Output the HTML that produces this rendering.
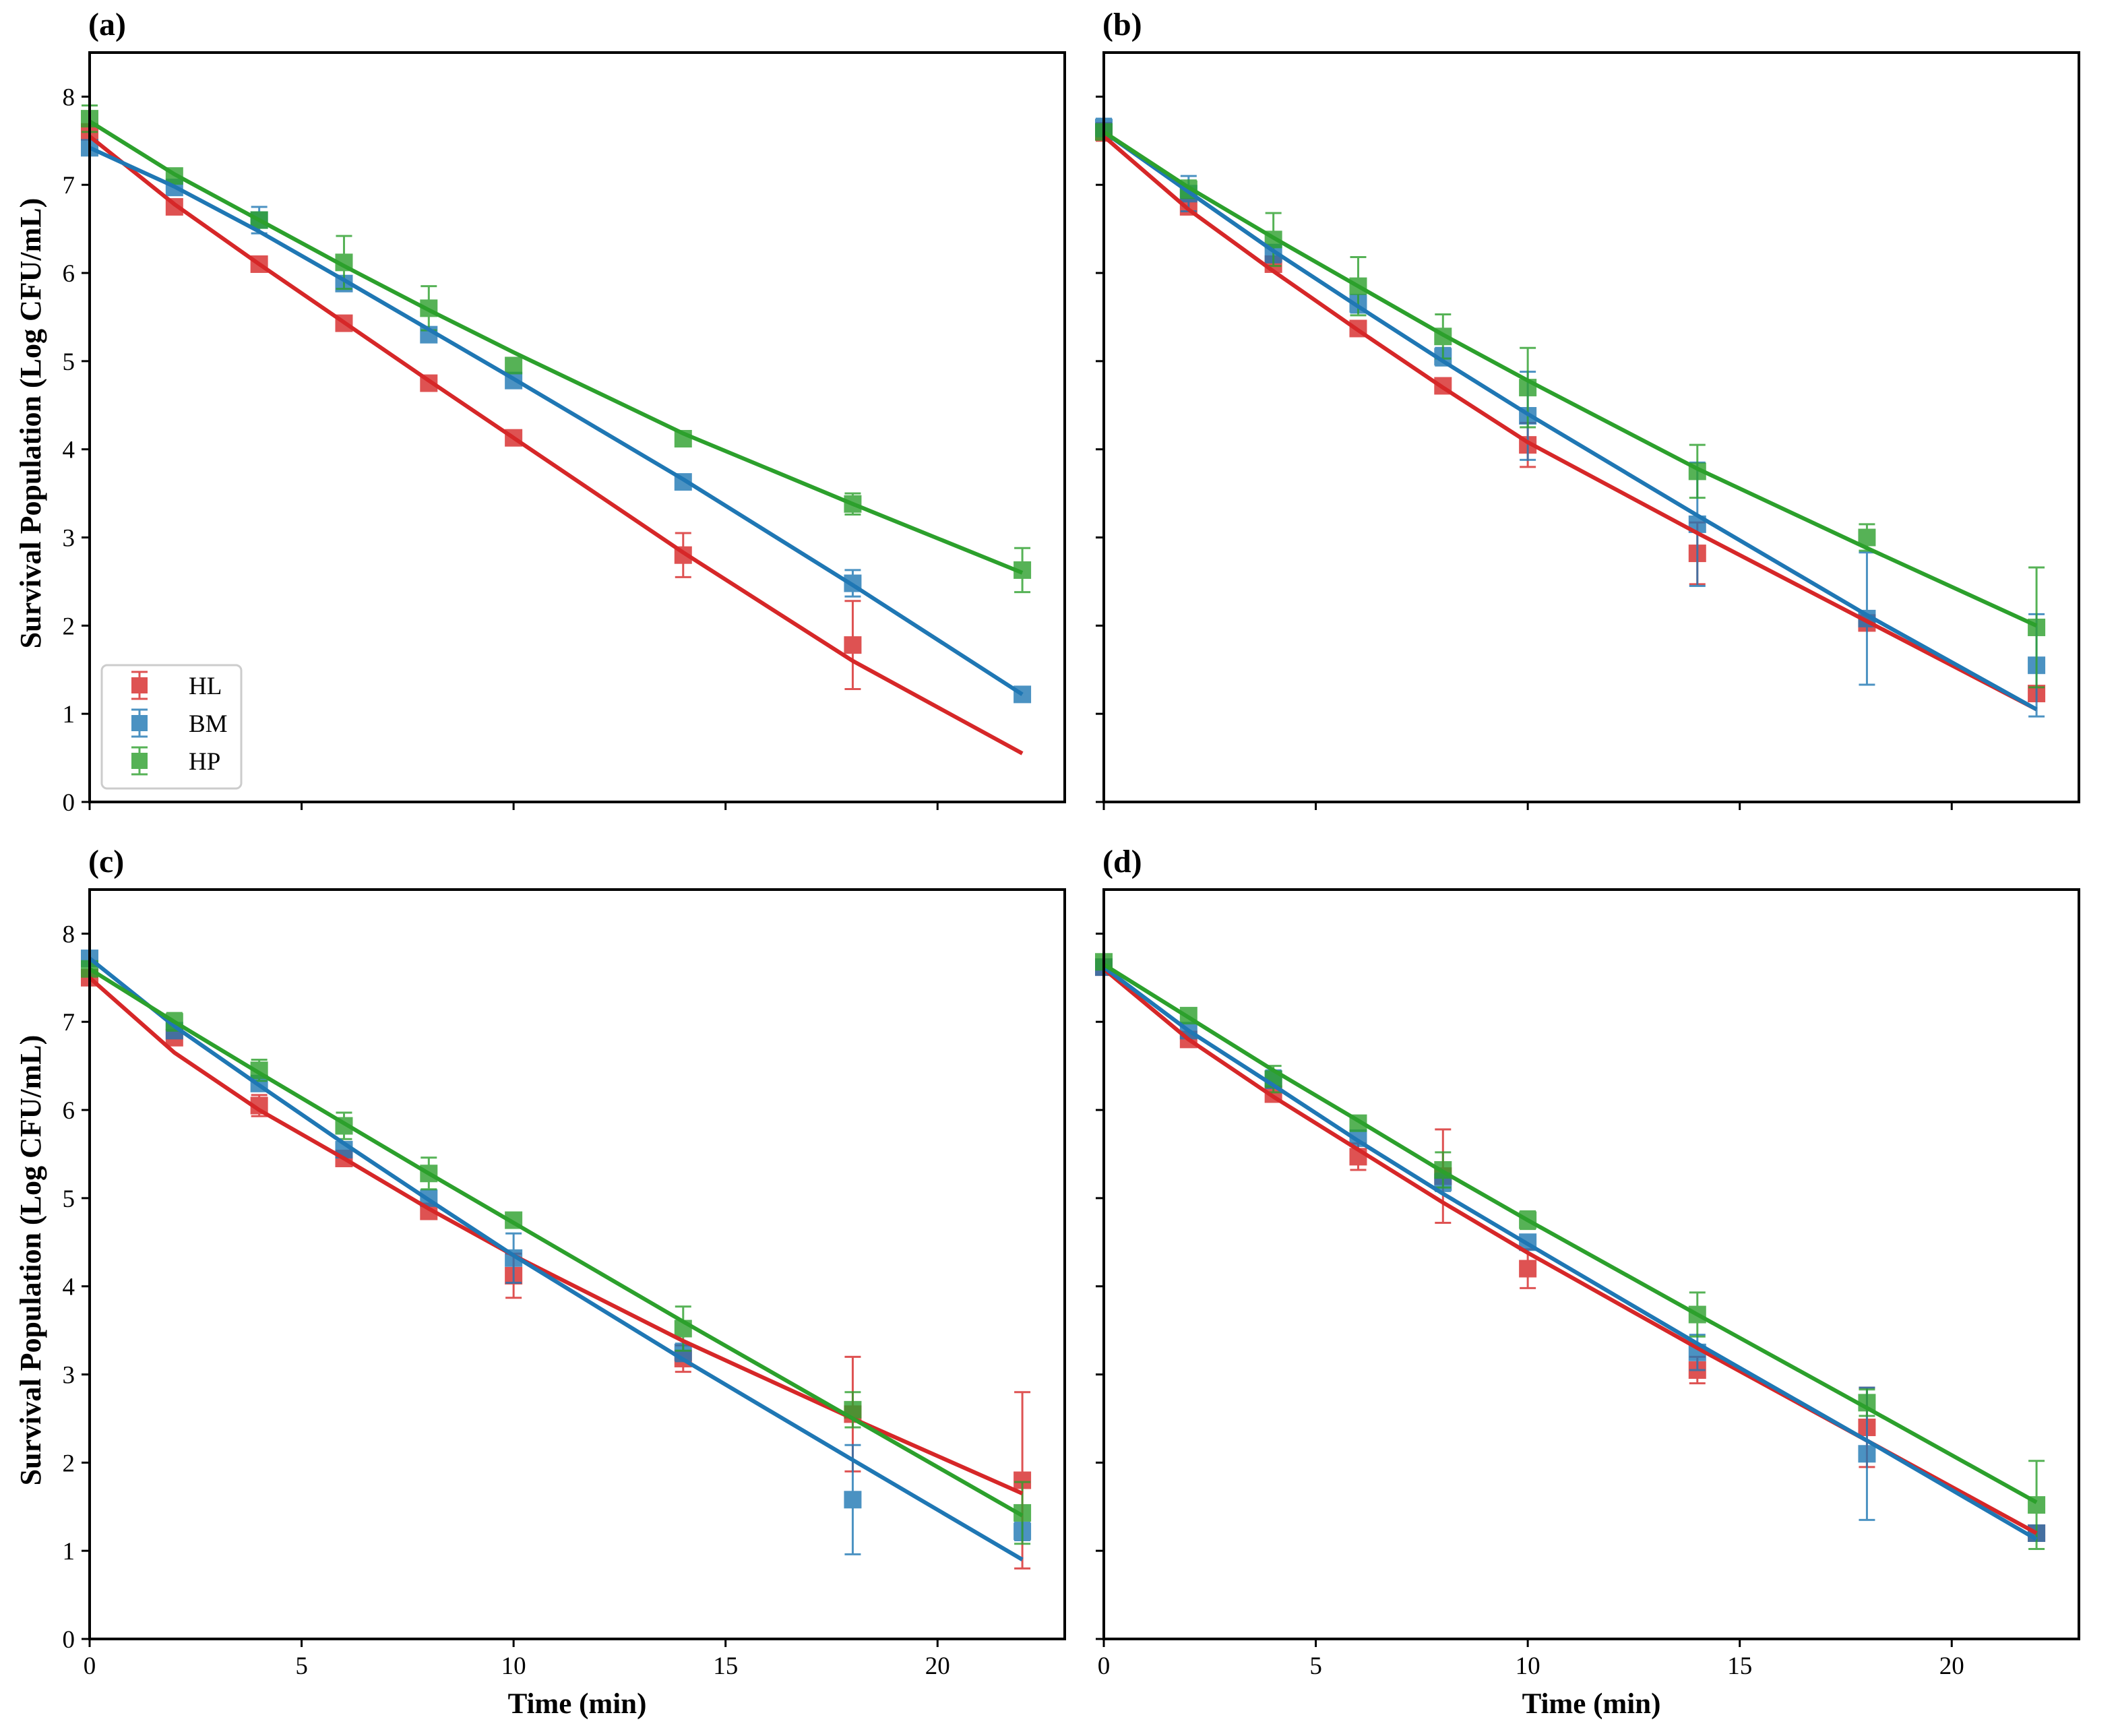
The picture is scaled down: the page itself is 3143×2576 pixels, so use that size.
<!DOCTYPE html>
<html><head><meta charset="utf-8"><style>
html,body{margin:0;padding:0;background:#fff}
svg{display:block;font-family:"Liberation Serif",serif}
</style></head><body>
<svg id="fig" width="3143" height="2576" viewBox="0 0 3143 2576" xmlns="http://www.w3.org/2000/svg"></svg>
<script>
const xs = [0,2,4,6,8,10,14,18,22];
const xTicks = [0,5,10,15,20];
const yTicks = [0,1,2,3,4,5,6,7,8];
const seriesNames = ['HL','BM','HP'];
const colors = ['#d62728','#1f77b4','#2ca02c'];
const panelLabels = ['(a)','(b)','(c)','(d)'];
// panel a
const aHL = [7.6,6.75,6.1,5.43,4.75,4.13,2.8,1.78,null];
const aHLerr = [0.05,0.05,0.05,0.05,0.05,0.05,0.25,0.5,0];
const aHLfit = [7.55,6.78,6.1,5.44,4.78,4.13,2.83,1.6,0.55];
const aBM = [7.42,6.97,6.6,5.88,5.3,4.78,3.63,2.48,1.22];
const aBMerr = [0.05,0.05,0.15,0.05,0.05,0.08,0.05,0.15,0.03];
const aBMfit = [7.42,6.98,6.47,5.92,5.36,4.8,3.66,2.46,1.22];
const aHP = [7.75,7.1,6.6,6.12,5.6,4.95,4.12,3.38,2.63];
const aHPerr = [0.15,0.05,0.08,0.3,0.25,0.05,0.05,0.12,0.25];
const aHPfit = [7.72,7.12,6.6,6.08,5.58,5.1,4.18,3.38,2.6];
// panel b
const bHL = [7.6,6.75,6.1,5.37,4.72,4.05,2.82,2.03,1.23];
const bHLerr = [0.1,0.05,0.05,0.05,0.05,0.25,0.35,0.05,0.08];
const bHLfit = [7.55,6.72,6.02,5.35,4.7,4.08,3.05,2.05,1.05];
const bBM = [7.65,6.9,6.22,5.65,5.05,4.38,3.15,2.08,1.55];
const bBMerr = [0.1,0.2,0.1,0.1,0.1,0.5,0.7,0.75,0.58];
const bBMfit = [7.6,6.92,6.25,5.62,5.0,4.4,3.25,2.12,1.05];
const bHP = [7.6,6.95,6.38,5.85,5.28,4.7,3.75,3.0,1.98];
const bHPerr = [0.08,0.1,0.3,0.33,0.25,0.45,0.3,0.15,0.68];
const bHPfit = [7.6,6.97,6.4,5.85,5.3,4.78,3.78,2.88,2.0];
// panel c
const cHL = [7.5,6.82,6.05,5.45,4.85,4.12,3.18,2.55,1.8];
const cHLerr = [0.08,0.05,0.12,0.05,0.05,0.25,0.15,0.65,1.0];
const cHLfit = [7.5,6.65,6.0,5.45,4.88,4.35,3.38,2.5,1.65];
const cBM = [7.72,6.9,6.3,5.55,5.0,4.32,3.25,1.58,1.22];
const cBMerr = [0.05,0.05,0.05,0.05,0.05,0.28,0.1,0.62,0.1];
const cBMfit = [7.72,6.95,6.28,5.62,4.98,4.35,3.17,2.03,0.9];
const cHP = [7.6,7.0,6.45,5.82,5.28,4.75,3.52,2.6,1.43];
const cHPerr = [0.05,0.1,0.12,0.15,0.18,0.05,0.25,0.2,0.35];
const cHPfit = [7.6,7.0,6.42,5.85,5.28,4.72,3.6,2.5,1.4];
// panel d
const dHL = [7.62,6.8,6.18,5.47,5.25,4.2,3.05,2.4,1.2];
const dHLerr = [0.05,0.05,0.05,0.15,0.53,0.22,0.15,0.45,0.05];
const dHLfit = [7.6,6.8,6.15,5.55,4.95,4.38,3.3,2.25,1.2];
const dBM = [7.62,6.9,6.35,5.68,5.18,4.5,3.25,2.1,1.2];
const dBMerr = [0.05,0.05,0.1,0.05,0.1,0.05,0.2,0.75,0.05];
const dBMfit = [7.62,6.9,6.28,5.65,5.05,4.48,3.35,2.25,1.13];
const dHP = [7.68,7.07,6.35,5.85,5.32,4.75,3.68,2.68,1.52];
const dHPerr = [0.05,0.05,0.15,0.05,0.2,0.1,0.25,0.15,0.5];
const dHPfit = [7.65,7.05,6.45,5.88,5.3,4.75,3.68,2.62,1.55];

const panels = [
 {x0:133,y0:78,vals:[aHL,aBM,aHP],errs:[aHLerr,aBMerr,aHPerr],fits:[aHLfit,aBMfit,aHPfit],xl:false,yl:true,legend:true},
 {x0:1638,y0:78,vals:[bHL,bBM,bHP],errs:[bHLerr,bBMerr,bHPerr],fits:[bHLfit,bBMfit,bHPfit],xl:false,yl:false},
 {x0:133,y0:1320,vals:[cHL,cBM,cHP],errs:[cHLerr,cBMerr,cHPerr],fits:[cHLfit,cBMfit,cHPfit],xl:true,yl:true},
 {x0:1638,y0:1320,vals:[dHL,dBM,dHP],errs:[dHLerr,dBMerr,dHPerr],fits:[dHLfit,dBMfit,dHPfit],xl:true,yl:false}
];
const W=1447,H=1112,XMAX=23,YMAX=8.5;
const NS='http://www.w3.org/2000/svg';
const svg=document.getElementById('fig');
function mk(tag,attrs,parent){const e=document.createElementNS(NS,tag);for(const k in attrs)e.setAttribute(k,attrs[k]);(parent||svg).appendChild(e);return e;}
panels.forEach((p,pi)=>{
 const sx=v=>p.x0+v/XMAX*W, sy=v=>p.y0+H-v/YMAX*H;
 const g=mk('g',{});
 
 
 const lab=mk('text',{x:p.x0-2,y:p.y0-26,'font-size':48,'font-weight':'bold'},g);
 lab.textContent=panelLabels[pi];
 
 
 xTicks.forEach(t=>{
  mk('line',{x1:sx(t),x2:sx(t),y1:p.y0+H,y2:p.y0+H+12,stroke:'#000','stroke-width':3},g);
  if(p.xl){const tx=mk('text',{x:sx(t),y:p.y0+H+52,'font-size':37,'text-anchor':'middle'},g);tx.textContent=t;
   
   }
 });
 yTicks.forEach(t=>{
  mk('line',{x1:p.x0-12,x2:p.x0,y1:sy(t),y2:sy(t),stroke:'#000','stroke-width':3},g);
  if(p.yl){const ty=mk('text',{x:p.x0-22,y:sy(t)+13,'font-size':37,'text-anchor':'end'},g);ty.textContent=t;
   
   }
 });
 if(p.yl){const yt=mk('text',{x:0,y:0,'font-size':44,'font-weight':'bold','text-anchor':'middle',transform:`translate(60,${p.y0+H/2-6}) rotate(-90)`},g);
  yt.textContent='Survival Population (Log CFU/mL)';
  
  }
 if(p.xl){const xt=mk('text',{x:p.x0+W/2,y:p.y0+H+110,'font-size':43,'font-weight':'bold','text-anchor':'middle'},g);
  xt.textContent='Time (min)';
  
  }
 for(let s=0;s<3;s++){
  const c=colors[s];
  xs.forEach((x,i)=>{
   const v=p.vals[s][i]; if(v==null)return;
   const e=p.errs[s][i];
   const m=mk('g',{opacity:0.8},g);
   
   
   mk('line',{x1:sx(x),x2:sx(x),y1:sy(v-e),y2:sy(v+e),stroke:c,'stroke-width':3},m);
   mk('line',{x1:sx(x)-12,x2:sx(x)+12,y1:sy(v-e),y2:sy(v-e),stroke:c,'stroke-width':3},m);
   mk('line',{x1:sx(x)-12,x2:sx(x)+12,y1:sy(v+e),y2:sy(v+e),stroke:c,'stroke-width':3},m);
   mk('rect',{x:sx(x)-12,y:sy(v)-12,width:24,height:24,fill:c,stroke:c,'stroke-width':2},m);
  });
 }
 for(let s=0;s<3;s++){
  const pts=xs.map((x,i)=>sx(x)+','+sy(p.fits[s][i])).join(' ');
  const pl=mk('polyline',{points:pts,fill:'none',stroke:colors[s],'stroke-width':6,'stroke-linejoin':'round'},g);
  
  
 }
 mk('rect',{x:p.x0,y:p.y0,width:W,height:H,fill:'none',stroke:'#000','stroke-width':4},g);
 if(p.legend){
  const lg=mk('g',{},g);
  
  
  mk('rect',{x:151,y:987,width:207,height:183,rx:8,fill:'#fff',stroke:'#ccc','stroke-width':3},lg);
  seriesNames.forEach((n,s)=>{
   const y=1017+s*56,c=colors[s];
   const e=mk('g',{opacity:0.8},lg);
   
   
   mk('line',{x1:207,x2:207,y1:y-20,y2:y+20,stroke:c,'stroke-width':3},e);
   mk('line',{x1:195,x2:219,y1:y-20,y2:y-20,stroke:c,'stroke-width':3},e);
   mk('line',{x1:195,x2:219,y1:y+20,y2:y+20,stroke:c,'stroke-width':3},e);
   mk('rect',{x:195,y:y-12,width:24,height:24,fill:c},e);
   const t=mk('text',{x:280,y:y+13,'font-size':37},lg);t.textContent=n;
  });
 }
});
</script>
</body></html>
